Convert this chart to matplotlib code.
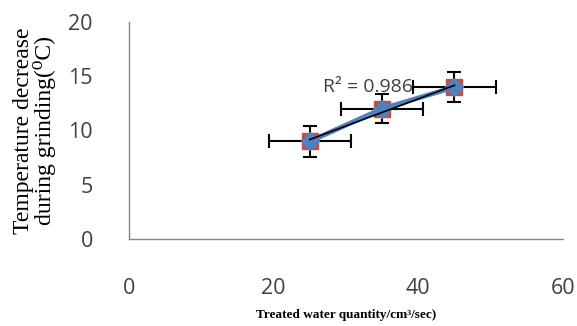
import numpy as np
import matplotlib.pyplot as plt

# data
water = [25, 35, 45]
temp_drop = [9, 12, 14]
x_err = [5.7, 5.7, 5.7]
y_err = [1.4, 1.35, 1.35]
x_ticks = [0, 20, 40, 60]
y_ticks = [0, 5, 10, 15, 20]

fig = plt.figure(figsize=(5.77, 3.26), dpi=100)
ax = fig.add_axes([0.2236, 0.2669, 0.752, 0.6656])

# linear trendline + R^2
coef = np.polyfit(water, temp_drop, 1)
fit = np.polyval(coef, water)
ss_res = np.sum((np.array(temp_drop) - fit) ** 2)
ss_tot = np.sum((np.array(temp_drop) - np.mean(temp_drop)) ** 2)
r2 = 1 - ss_res / ss_tot

ax.errorbar(water, temp_drop, xerr=x_err, yerr=y_err, fmt="none",
            ecolor="black", elinewidth=1.5, capsize=5, capthick=1.5, zorder=2)
ax.plot(water, temp_drop, "s", color="#C0504D", markersize=12, zorder=3)
ax.plot(water, temp_drop, "-", color="#4F81BD", linewidth=3.5, zorder=4)
ax.plot(water, temp_drop, "D", color="#4F81BD", markersize=9, zorder=5)
ax.plot([water[0], water[-1]], np.polyval(coef, [water[0], water[-1]]),
        color="black", linewidth=1.2, zorder=6)

r2_label = "R\u00b2 = 0.986"  # value printed on the chart
ax.text(26.8, 14.0, r2_label, fontsize=14, color="#404040",
        family="Open Sans", ha="left", va="center", zorder=7)

ax.set_xlim(0, 60)
ax.set_ylim(0, 20)
ax.set_xticks(x_ticks)
ax.set_yticks(y_ticks)
ax.tick_params(length=0, labelsize=15.5, colors="#404040")
ax.tick_params(axis="x", pad=28)
ax.tick_params(axis="y", pad=26)
for lab in ax.get_xticklabels() + ax.get_yticklabels():
    lab.set_family("Open Sans")

for side in ["top", "right"]:
    ax.spines[side].set_visible(False)
for side in ["left", "bottom"]:
    ax.spines[side].set_color("#868686")
    ax.spines[side].set_linewidth(1)

ax.set_xlabel("Treated water quantity/cm\u00b3/sec)", family="Liberation Serif",
              fontsize=9.5, fontweight="bold", labelpad=7)
ax.set_ylabel("Temperature decrease\nduring grinding(\u2070C)",
              family=["Liberation Serif", "DejaVu Serif", "DejaVu Sans"],
              fontsize=17, labelpad=9, linespacing=0.95)

fig.savefig("out.png", dpi=100)
